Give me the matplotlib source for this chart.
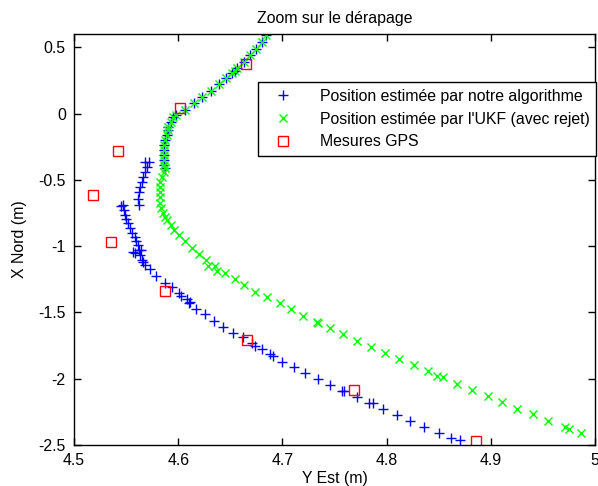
import matplotlib
matplotlib.use("Agg")
import matplotlib.pyplot as plt

plt.rcParams['font.family'] = ['Liberation Sans', 'DejaVu Sans']
plt.rcParams['font.size'] = 11.4

# common part of the two estimated trajectories (before the skid)
common_y_est = [4.684, 4.680, 4.675, 4.669, 4.663, 4.656, 4.654, 4.652, 4.646,
                4.639, 4.631, 4.623, 4.615, 4.606, 4.598, 4.595, 4.593, 4.590,
                4.590, 4.589, 4.587, 4.586, 4.586, 4.586, 4.586, 4.586, 4.587]
common_x_nord = [0.595, 0.540, 0.490, 0.439, 0.389, 0.347, 0.321, 0.306, 0.268,
                 0.221, 0.170, 0.125, 0.080, 0.030, -0.013, -0.030, -0.063, -0.101,
                 -0.126, -0.164, -0.201, -0.239, -0.277, -0.314, -0.352, -0.390, -0.414]

# our algorithm, after the skid
algo_y_est = [4.572, 4.568, 4.570, 4.568, 4.566, 4.565, 4.563, 4.562, 4.561, 4.562,
              4.547, 4.545, 4.548, 4.549, 4.550, 4.552, 4.554, 4.556, 4.558, 4.559,
              4.561, 4.562, 4.564, 4.557, 4.558, 4.563, 4.565, 4.566, 4.568, 4.573,
              4.579, 4.587, 4.594, 4.601, 4.603, 4.608, 4.610, 4.611, 4.617, 4.626,
              4.634, 4.643, 4.653, 4.662, 4.671, 4.674, 4.680, 4.688, 4.691, 4.700,
              4.711, 4.722, 4.734, 4.746, 4.757, 4.759, 4.772, 4.783, 4.787, 4.797,
              4.810, 4.822, 4.836, 4.850, 4.862, 4.870]
algo_x_nord = [-0.365, -0.365, -0.403, -0.440, -0.478, -0.516, -0.553, -0.591, -0.641, -0.691,
               -0.691, -0.699, -0.729, -0.766, -0.799, -0.829, -0.867, -0.900, -0.930, -0.960,
               -0.993, -1.030, -1.030, -1.043, -1.055, -1.068, -1.106, -1.118, -1.143, -1.176,
               -1.226, -1.281, -1.307, -1.356, -1.377, -1.402, -1.427, -1.420, -1.477, -1.512,
               -1.563, -1.608, -1.653, -1.688, -1.733, -1.754, -1.778, -1.814, -1.829, -1.872,
               -1.910, -1.959, -2.005, -2.048, -2.093, -2.093, -2.140, -2.181, -2.185, -2.228,
               -2.274, -2.319, -2.364, -2.411, -2.449, -2.462]

# UKF with rejection, after the skid
ukf_y_est = [4.586, 4.584, 4.582, 4.582, 4.582, 4.582, 4.582, 4.583, 4.585, 4.587,
             4.589, 4.593, 4.596, 4.601, 4.606, 4.613, 4.620, 4.627, 4.629, 4.635,
             4.637, 4.645, 4.654, 4.663, 4.674, 4.685, 4.698, 4.708, 4.720, 4.733,
             4.734, 4.746, 4.758, 4.772, 4.785, 4.798, 4.812, 4.826, 4.840, 4.848,
             4.854, 4.868, 4.882, 4.897, 4.911, 4.925, 4.941, 4.955, 4.971, 4.975,
             4.987]
ukf_x_nord = [-0.440, -0.478, -0.515, -0.553, -0.591, -0.628, -0.678, -0.716, -0.754, -0.779,
              -0.804, -0.842, -0.879, -0.917, -0.965, -1.017, -1.060, -1.106, -1.151, -1.147,
              -1.185, -1.201, -1.246, -1.294, -1.344, -1.387, -1.432, -1.477, -1.528, -1.570,
              -1.583, -1.620, -1.665, -1.714, -1.759, -1.804, -1.854, -1.899, -1.944, -1.980,
              -1.989, -2.038, -2.085, -2.130, -2.178, -2.226, -2.268, -2.319, -2.366, -2.379,
              -2.411]

# GPS measurements
gps_y_est = [4.665, 4.602, 4.542, 4.518, 4.535, 4.587, 4.666, 4.769, 4.886]
gps_x_nord = [0.377, 0.045, -0.282, -0.616, -0.972, -1.337, -1.708, -2.087, -2.469]

fig = plt.figure(figsize=(5.98, 4.86), dpi=100)
ax = fig.add_axes([0.1239, 0.0844, 0.871, 0.8457])

ax.plot(common_y_est + algo_y_est, common_x_nord + algo_x_nord, '+', color='blue',
        markersize=7.5, markeredgewidth=1.0, linestyle='none',
        label='Position estimée par notre algorithme')
ax.plot(common_y_est + ukf_y_est, common_x_nord + ukf_x_nord, 'x', color='#00ff00',
        markersize=6, markeredgewidth=1.0, linestyle='none',
        label="Position estimée par l'UKF (avec rejet)")
ax.plot(gps_y_est, gps_x_nord, 's', color='red', markerfacecolor='none',
        markersize=7, markeredgewidth=1.0, linestyle='none', label='Mesures GPS')

ax.set_xlim(4.5, 5.0)
ax.set_ylim(-2.5, 0.6)
ax.set_xticks([4.5, 4.6, 4.7, 4.8, 4.9, 5.0])
ax.set_xticklabels(['4.5', '4.6', '4.7', '4.8', '4.9', '5'])
ax.set_yticks([-2.5, -2, -1.5, -1, -0.5, 0, 0.5])
ax.set_yticklabels(['-2.5', '-2', '-1.5', '-1', '-0.5', '0', '0.5'])
ax.tick_params(direction='in', top=True, right=True, length=5, width=1,
               labelsize=11.4, pad=6)
for s in ax.spines.values():
    s.set_linewidth(1.0)

ax.set_xlabel('Y Est (m)', fontsize=11.4, labelpad=2)
ax.set_ylabel('X Nord (m)', fontsize=11.4, labelpad=8)
ax.set_title('Zoom sur le dérapage', fontsize=11.4, pad=8)

leg = ax.legend(loc='upper right', bbox_to_anchor=(1.002, 0.8825), borderaxespad=0,
                fancybox=False, framealpha=1, edgecolor='black', fontsize=11.4,
                handlelength=2.4, handletextpad=1.1, labelspacing=0.5, borderpad=0.4)
leg.get_frame().set_linewidth(1.0)

fig.savefig('out.png', dpi=100)
